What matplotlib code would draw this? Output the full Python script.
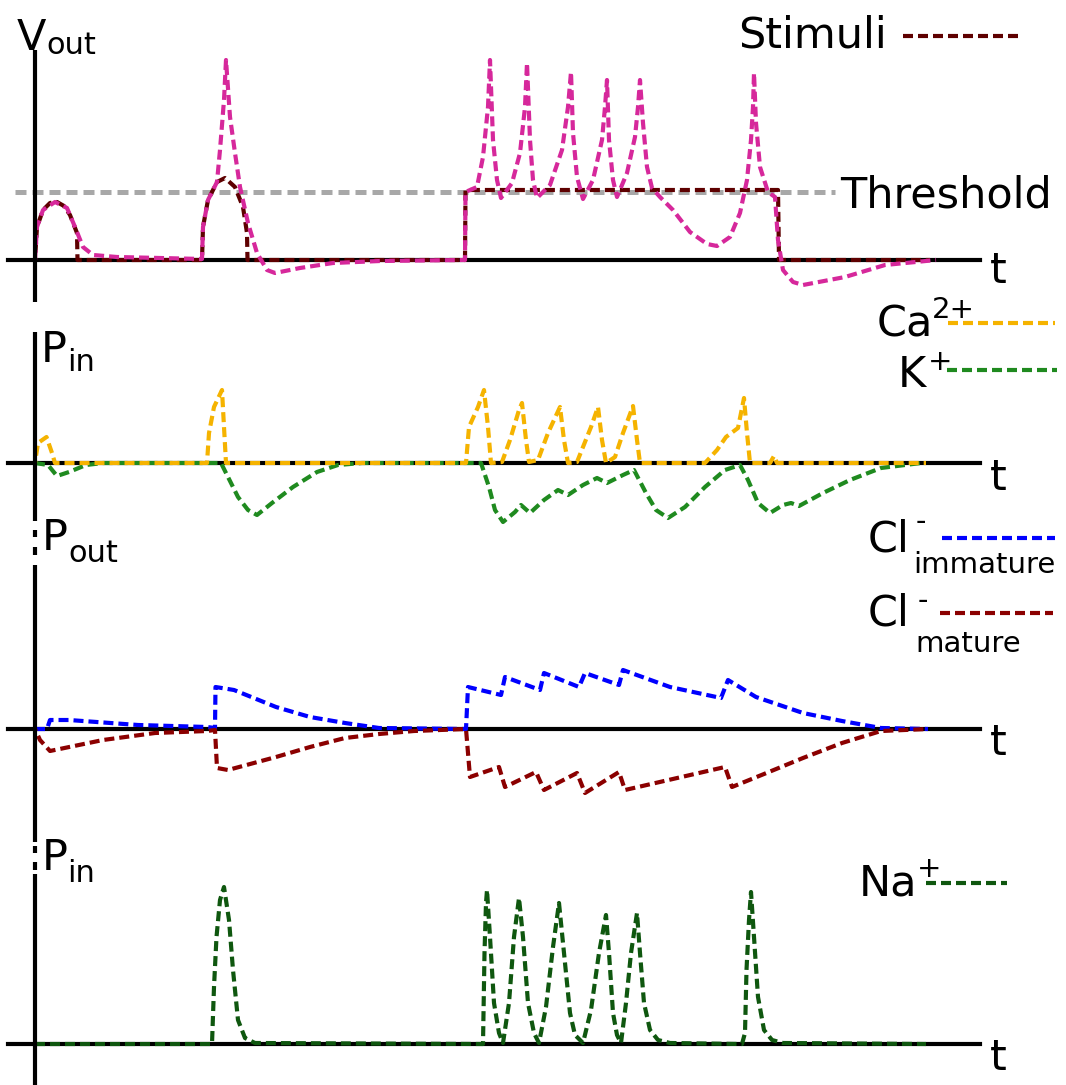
import matplotlib
matplotlib.use("Agg")
import matplotlib.pyplot as plt
from matplotlib.lines import Line2D

# ---------------------------------------------------------------
# traces (t in ms, amplitudes in arbitrary units above rest)
# ---------------------------------------------------------------
stim_t = [0, 0.2, 0.8, 1.5, 2.2, 2.9, 3.5, 4.2, 4.25, 16.7, 16.8, 17.3, 18.2, 19.0,
          20.0, 20.8, 21.2, 21.25, 43.0, 43.05, 74.3, 74.4, 89.5]
stim_v = [0, 3.3, 5.0, 5.7, 5.8, 5.4, 4.5, 2.7, 0, 0, 3.3, 6.0, 7.8, 8.2,
          7.3, 5.3, 2.7, 0, 0, 7.0, 7.0, 0, 0]

vout_t = [0, 0.2, 0.8, 2.0, 3.2, 4.0, 4.8, 5.8, 8.2, 12.5, 16.7,
          16.8, 17.3, 18.2, 18.5, 18.9, 19.1, 19.5, 20.0, 20.5, 21.3, 22.2, 23.2, 24.0,
          26.5, 29.8, 34.5, 42.8,
          43.0, 43.05, 44.2, 44.8, 45.3, 45.5, 45.8, 46.2, 46.6,
          47.7, 48.5, 49.0, 49.2, 49.5, 49.8, 50.2,
          51.5, 52.7, 53.3, 53.6, 53.8, 54.2, 54.8,
          55.8, 56.7, 57.0, 57.2, 57.4, 57.8, 58.2,
          59.2, 60.0, 60.3, 60.5, 60.8, 61.2, 61.7,
          62.5, 63.8, 65.5, 67.2, 68.2, 69.5, 70.5, 71.2, 71.6, 71.8, 71.9,
          72.1, 72.5, 73.3, 74.0,
          74.3, 74.8, 75.8, 76.8, 81.0, 85.0, 90.1]
vout_v = [0, 3.3, 5.0, 5.8, 5.2, 3.3, 1.3, 0.5, 0.3, 0.2, 0.1,
          3.3, 6.0, 7.8, 11.0, 16.0, 20.0, 14.3, 10.7, 7.3, 3.7, 0.7, -1.0, -1.3,
          -0.8, -0.3, -0.1, 0,
          0, 6.8, 7.3, 10.3, 15.3, 20.0, 12.0, 8.0, 6.2,
          7.7, 10.7, 15.3, 19.7, 12.0, 8.0, 6.2,
          7.5, 11.0, 15.3, 18.8, 12.7, 8.3, 6.1,
          8.0, 12.0, 15.3, 18.0, 12.0, 8.0, 6.3,
          8.7, 12.3, 15.3, 18.0, 13.7, 9.3, 7.2,
          6.3, 5.0, 2.8, 1.6, 1.4, 2.3, 4.7, 8.0, 12.0, 15.3, 18.7,
          13.7, 9.3, 6.8, 6.3,
          2.0, -1.0, -2.2, -2.5, -1.7, -0.5, 0]

threshold = 6.8
threshold_span = [-2.0, 80.0]

ca_t = [0, 0.3, 1.15, 1.7, 2.0, 17.2, 17.4, 17.9, 18.7, 18.9, 19.1,
        43.1, 43.4, 44.3, 44.9, 45.3, 45.6,
        46.7, 47.5, 48.4, 48.7, 49.1, 49.4,
        50.3, 51.3, 52.5, 52.9, 53.3,
        54.2, 54.8, 55.6, 56.3, 56.7, 57.1,
        58.0, 58.8, 59.8, 60.2, 60.5,
        67.0, 68.2, 69.1, 70.3, 70.9, 71.2, 71.5,
        73.5, 73.9, 74.2, 89.1]
ca_p = [0, 2.0, 2.6, 1.0, 0, 0, 3.0, 5.6, 7.3, 3.6, 0,
        0, 3.6, 5.6, 7.3, 3.6, 0,
        0.1, 2.3, 5.3, 6.0, 2.3, 0.1,
        0.3, 3.0, 5.6, 2.3, 0,
        0.1, 1.6, 3.6, 5.6, 2.3, 0,
        0.6, 3.0, 5.7, 2.3, 0,
        0, 1.3, 2.6, 3.5, 6.5, 3.0, 0,
        0, 0.7, 0, 0]

k_t = [0, 1.3, 2.2, 3.4, 5.1, 6.8, 18.6, 19.3, 20.3, 21.3, 22.2, 23.7, 25.8,
       28.2, 30.3, 32.7,
       44.6, 45.4, 46.0, 46.8, 48.0, 48.6, 49.5, 50.9, 52.3, 53.3, 54.8, 56.2,
       57.2, 58.8, 59.9, 61.1, 62.1, 63.3, 65.0, 67.0, 69.0, 70.5, 71.3, 72.3,
       73.5, 74.8, 75.6, 76.4, 78.8, 81.5, 84.6, 88.6]
k_p = [0, -0.2, -1.3, -0.9, -0.2, 0, 0, -1.4, -3.4, -4.7, -5.2, -4.0, -2.4,
       -0.9, -0.2, 0,
       0, -2.4, -4.7, -5.9, -4.9, -4.2, -5.0, -3.7, -2.7, -3.2, -2.2, -1.5,
       -2.0, -1.2, -0.7, -3.0, -4.7, -5.5, -4.4, -2.4, -0.7, -0.2, -1.7, -4.0,
       -5.0, -4.2, -4.0, -4.3, -3.0, -1.7, -0.5, 0]

cl_imm_t = [0, 1.2, 1.5, 3.4, 10.3, 17.2, 18.0, 18.05, 19.9, 24.1, 27.5, 31.0,
            34.4, 43.1, 43.3, 46.6, 47.0, 50.5, 50.9, 54.4, 55.0, 58.4, 58.8,
            63.5, 68.6, 69.3, 72.1, 76.8, 80.7, 84.6, 89.3]
cl_imm_p = [0, 0, 0.9, 0.9, 0.4, 0.2, 0.1, 4.2, 3.9, 2.2, 1.2, 0.6,
            0.1, 0, 4.2, 3.4, 5.2, 3.9, 5.6, 4.2, 5.6, 4.4, 5.9,
            4.2, 3.1, 4.9, 3.2, 1.6, 0.8, 0.1, 0]

cl_mat_t = [0, 0.5, 1.5, 6.8, 12.0, 17.2, 18.0, 18.2, 19.3, 24.1, 27.5, 31.0,
            34.4, 37.9, 43.1, 43.5, 46.4, 47.0, 50.1, 50.9, 54.2, 55.0, 58.4,
            59.0, 69.0, 69.7, 72.9, 76.8, 80.7, 84.6, 89.3]
cl_mat_p = [0, -1.1, -2.2, -1.1, -0.4, -0.2, -0.1, -3.9, -4.1, -2.8, -1.8, -0.9,
            -0.5, -0.2, 0, -4.8, -3.8, -5.8, -4.3, -6.1, -4.4, -6.4, -4.3,
            -6.1, -3.8, -5.8, -4.5, -2.9, -1.4, -0.2, 0]

na_t = [0, 17.7, 17.9, 18.15, 18.5, 18.9, 19.4, 19.8, 20.3, 21.0, 22.0,
        44.8, 44.95, 45.1, 45.2, 45.5, 45.9, 46.4, 46.8,
        47.4, 47.9, 48.4, 48.8, 49.3, 49.9, 50.4,
        51.1, 51.8, 52.4, 52.9, 53.5, 54.0, 54.8,
        55.6, 56.4, 57.1, 57.4, 57.8, 58.2, 58.6,
        59.1, 59.6, 60.2, 60.5, 60.9, 61.5, 62.3, 63.5,
        70.7, 71.0, 71.15, 71.4, 71.6, 71.9, 72.3, 72.9, 73.7, 74.8, 89.1]
na_p = [0, 0, 5.7, 10.7, 14.4, 15.7, 12.4, 7.4, 2.4, 0.6, 0.1,
        0, 9.1, 14.1, 15.4, 10.7, 4.1, 1.1, 0.1,
        4.1, 10.7, 14.6, 10.7, 4.1, 1.1, 0.1,
        3.7, 9.7, 14.1, 9.1, 3.1, 0.9, 0.1,
        3.4, 9.1, 12.9, 9.1, 3.1, 0.9, 0.1,
        4.1, 9.1, 13.1, 9.1, 4.1, 1.4, 0.4, 0.1,
        0, 1.1, 7.4, 12.4, 15.2, 10.7, 4.7, 1.4, 0.4, 0.1, 0]

# colours
PINK = "#d6289b"
STIM = "#5e0000"
GREY = "#a8a8a8"
CA = "#f5b300"
K = "#1f8a1f"
BLUE = "#0000ff"
MAT = "#8b0000"
NA = "#0f570f"

W, H = 1066, 1085
DASH = (0, (2.4, 1.2))
DASH_SHIFT = (1.8, (2.4, 1.2))   # offset so overlapping traces interleave
LW = 3.0
FS = 31
FS_SMALL = 21


def fx(x):
    return x / W


def fy(y):
    return 1 - y / H


fig = plt.figure(figsize=(W / 100, H / 100), dpi=100)


def panel(top, bottom, base):
    # 10 px per unit on both axes, t = 0 at the vertical axis
    ax = fig.add_axes([0, fy(bottom), 1, (bottom - top) / H])
    ax.set_xlim(-3.5, (W - 35) / 10)
    ax.set_ylim((base - bottom) / 10, (base - top) / 10)
    ax.axis("off")
    ax.axhline(0, xmin=fx(8), xmax=fx(980), color="black", lw=3, zorder=1)
    return ax


def text(x, y, s, size=FS, **kw):
    fig.text(fx(x), fy(y), s, fontsize=size, va="baseline", ha="left", **kw)


def key(x0, x1, y, color):
    fig.add_artist(Line2D([fx(x0), fx(x1)], [fy(y), fy(y)], transform=fig.transFigure,
                          color=color, lw=LW, ls=DASH))


# vertical axis, broken behind the P labels
for y0, y1 in [(50, 302), (332, 521), (530, 537), (547, 555), (565, 842),
               (846, 853), (862, 870), (874, 1085)]:
    fig.add_artist(Line2D([fx(35), fx(35)], [fy(y0), fy(y1)], transform=fig.transFigure,
                          color="black", lw=3, solid_capstyle="butt"))

# --- membrane potential ---
ax1 = panel(0, 310, 260)
ax1.plot(threshold_span, [threshold, threshold], color=GREY, lw=3.6, ls=(0, (2.2, 1.2)), zorder=2)
ax1.plot(stim_t, stim_v, color=STIM, lw=LW, ls=DASH_SHIFT, zorder=3)
ax1.plot(vout_t, vout_v, color=PINK, lw=LW, ls=DASH, zorder=4)
text(17, 50, "V")
text(46, 54, "out", size=22)
text(738, 47, "Stimuli")
key(903, 1018, 36, STIM)
text(840, 208, "Threshold")
text(990, 283, "t")

# --- Ca2+ / K+ inflow ---
ax2 = panel(310, 530, 463)
ax2.plot(k_t, k_p, color=K, lw=LW, ls=DASH, zorder=3)
ax2.plot(ca_t, ca_p, color=CA, lw=LW, ls=DASH_SHIFT, zorder=4)
text(41, 362, "P")
text(67, 371, "in", size=22)
text(877, 337, "Ca")
text(932, 318, "2+", size=FS_SMALL)
key(948, 1055, 323, CA)
text(898, 387, "K")
text(928, 370, "+", size=FS_SMALL)
key(947, 1057, 370, K)
text(990, 490, "t")

# --- Cl- outflow ---
ax3 = panel(530, 820, 729)
ax3.plot(cl_imm_t, cl_imm_p, color=BLUE, lw=LW, ls=DASH, zorder=3)
ax3.plot(cl_mat_t, cl_mat_p, color=MAT, lw=LW, ls=DASH_SHIFT, zorder=4)
text(42, 550, "P")
text(68, 562, "out", size=22)
text(868, 552, "Cl")
text(916, 530, "-", size=FS_SMALL)
text(913, 573, "immature", size=FS_SMALL)
key(942, 1055, 538, BLUE)
text(868, 625, "Cl")
text(918, 609, "-", size=FS_SMALL)
text(915, 652, "mature", size=FS_SMALL)
key(940, 1053, 613, MAT)
text(990, 755, "t")

# --- Na+ inflow ---
ax4 = panel(820, 1085, 1044)
ax4.plot(na_t, na_p, color=NA, lw=LW, ls=DASH, zorder=3)
text(42, 870, "P")
text(67, 882, "in", size=22)
text(859, 896, "Na")
text(917, 877, "+", size=FS_SMALL)
key(926, 1007, 883, NA)
text(990, 1070, "t")

fig.savefig("out.png", dpi=100)
